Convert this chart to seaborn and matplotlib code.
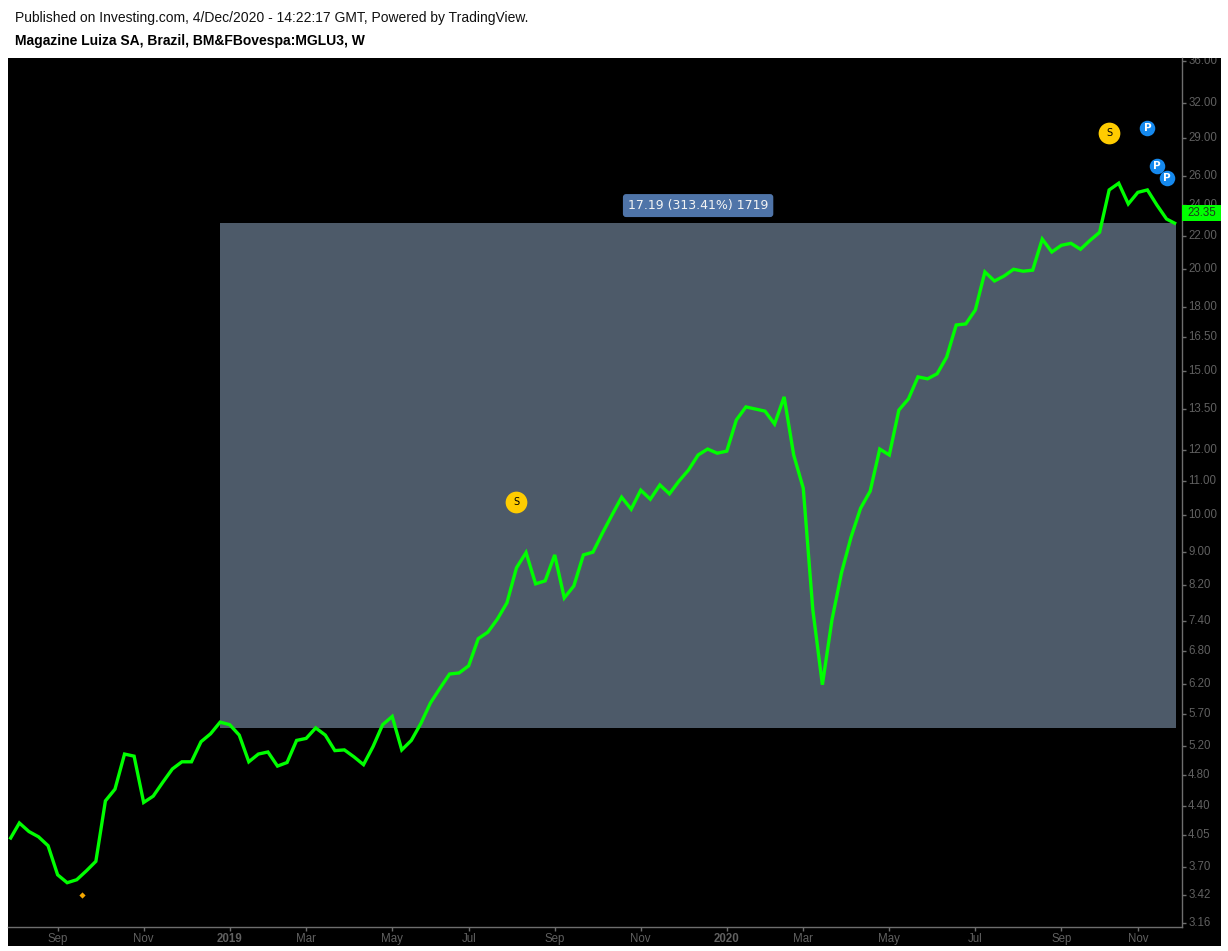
import pandas as pd
import matplotlib
matplotlib.use("Agg")
import matplotlib.pyplot as plt
import matplotlib.dates as mdates
from matplotlib.patches import Rectangle
from matplotlib.ticker import NullLocator
from matplotlib.transforms import Bbox
import seaborn as sns

# weekly closes
price = [
    4.00, 4.19, 4.09, 4.03, 3.93, 3.62, 3.54, 3.57, 3.66, 3.76,
    4.46, 4.61, 5.09, 5.06, 4.44, 4.52, 4.70, 4.88, 4.98, 4.98,
    5.27, 5.39, 5.57, 5.53, 5.37, 4.98, 5.09, 5.12, 4.92, 4.97,
    5.29, 5.32, 5.48, 5.37, 5.14, 5.15, 5.05, 4.94, 5.20, 5.53,
    5.66, 5.15, 5.29, 5.55, 5.88, 6.13, 6.38, 6.40, 6.53, 7.05,
    7.18, 7.45, 7.80, 8.61, 8.99, 8.23, 8.30, 8.93, 7.91, 8.18,
    8.93, 9.00, 9.50, 10.00, 10.51, 10.16, 10.72, 10.45, 10.88, 10.61,
    11.00, 11.35, 11.84, 12.04, 11.90, 11.97, 13.07, 13.56, 13.48, 13.40,
    12.92, 13.95, 11.84, 10.78, 7.65, 6.19, 7.43, 8.49, 9.39, 10.19,
    10.69, 12.04, 11.84, 13.44, 13.87, 14.76, 14.68, 14.89, 15.61, 17.09,
    17.14, 17.83, 19.85, 19.35, 19.62, 20.00, 19.89, 19.95, 21.78, 21.00,
    21.40, 21.52, 21.16, 21.70, 22.20, 25.02, 25.50, 24.05, 24.85, 25.02,
    23.97, 23.05, 22.73,
]
weeks = pd.date_range("2018-07-30", periods=len(price), freq="W-MON")

y_ticks = [36, 32, 29, 26, 24, 22, 20, 18, 16.5, 15, 13.5, 12, 11, 10, 9,
           8.2, 7.4, 6.8, 6.2, 5.7, 5.2, 4.8, 4.4, 4.05, 3.7, 3.42, 3.16]
x_tick_dates = ["2018-09-03", "2018-11-05", "2019-01-07", "2019-03-04", "2019-05-06",
                "2019-07-01", "2019-09-02", "2019-11-04", "2020-01-06", "2020-03-02",
                "2020-05-04", "2020-07-06", "2020-09-07", "2020-11-02"]
x_tick_labels = ["Sep", "Nov", "2019", "Mar", "May", "Jul", "Sep", "Nov",
                 "2020", "Mar", "May", "Jul", "Sep", "Nov"]

# price range measure tool
range_start, range_end = "2018-12-31", "2020-11-30"
range_low, range_high = 5.48, 22.79
range_label = "17.19 (313.41%) 1719"
range_label_date, range_label_y = "2019-12-16", 23.94

s_dates = ["2019-08-05", "2020-10-12"]
s_values = [10.37, 29.4]
p_dates = ["2020-11-09", "2020-11-16", "2020-11-23"]
p_values = [29.8, 26.77, 25.87]
split_date, split_value = "2018-09-21", 3.42

last_price = "23.35"

W, H = 1228, 951
GREY = "#606060"
AXIS = "#6e6e6e"

sns.set_style("white")
plt.rcParams["font.family"] = ["Liberation Sans", "DejaVu Sans"]

fig = plt.figure(figsize=(W / 100, H / 100), dpi=100, facecolor="white")


def px_box(x0, y0, x1, y1):
    return [x0 / W, 1 - y1 / H, (x1 - x0) / W, (y1 - y0) / H]


# black panel behind the chart and the axis strips
l, b, w, h = px_box(8, 58, 1221, 946)
fig.add_artist(Rectangle((l, b), w, h, transform=fig.transFigure, fc="black", ec="none", zorder=-1))

ax = fig.add_axes(px_box(8, 58, 1182, 927), facecolor="black")
ax.patch.set_visible(False)

ax.fill_between(pd.to_datetime([range_start, range_end]), range_low, range_high,
                color="#4d5a69", lw=0, zorder=1)
sns.lineplot(x=weeks, y=price, ax=ax, color="#00ff00", linewidth=2.4, estimator=None,
             zorder=3, solid_joinstyle="miter", solid_capstyle="butt")

ax.set_yscale("log")
ax.set_ylim(3.124, 36.31)
ax.set_xlim(pd.Timestamp("2018-07-28 16:00"), pd.Timestamp("2020-12-04 08:00"))
ax.set_xlabel("")
ax.set_ylabel("")

ax.yaxis.tick_right()
ax.set_yticks(y_ticks, [f"{t:.2f}" for t in y_ticks])
ax.yaxis.set_minor_locator(NullLocator())
ax.set_xticks(mdates.date2num(pd.to_datetime(x_tick_dates)), x_tick_labels)
ax.tick_params(axis="both", length=3, width=1, color=AXIS, labelcolor=GREY, labelsize=8.3, pad=2)
ax.tick_params(axis="x", pad=1.5, bottom=True)
ax.tick_params(axis="y", right=True, pad=1.5)

for sp in ["top", "left"]:
    ax.spines[sp].set_visible(False)
for sp in ["right", "bottom"]:
    ax.spines[sp].set_visible(True)
    ax.spines[sp].set_color(AXIS)
    ax.spines[sp].set_linewidth(1)

for lab in ax.get_xticklabels():
    if lab.get_text() in ("2019", "2020"):
        lab.set_fontweight("bold")

# labels at both ends get cut by the panel edges
clip = Bbox([[1182, H - 927], [1221, H - 58]])
for lab in ax.get_yticklabels():
    lab.set_verticalalignment("center")
    lab.set_clip_box(clip)
    lab.set_clip_on(True)

# measure label
ax.text(pd.Timestamp(range_label_date), range_label_y, range_label, ha="center", va="center",
        color="#f4f4f4", fontsize=9.0, family="DejaVu Sans", fontweight="medium", zorder=6,
        bbox=dict(boxstyle="round,pad=0.4,rounding_size=0.25", fc="#4f74a8", ec="none"))

# events
ax.scatter(pd.to_datetime(s_dates), s_values, s=245, color="#ffcc00", linewidths=0, zorder=5)
for d, v in zip(s_dates, s_values):
    ax.text(pd.Timestamp(d), v, "S", ha="center", va="center", fontsize=7, color="black",
            family="DejaVu Sans", zorder=6)
ax.scatter(pd.to_datetime(p_dates), p_values, s=125, color="#1589ee", linewidths=0, zorder=5)
for d, v in zip(p_dates, p_values):
    ax.text(pd.Timestamp(d), v, "P", ha="center", va="center", fontsize=7.5, color="white",
            fontweight="bold", family="DejaVu Sans", zorder=6)
ax.scatter([pd.Timestamp(split_date)], [split_value], s=10, marker="D", color="#f5a800",
           linewidths=0, zorder=5)

# last price tag on the scale
l, b, w, h = px_box(1182, 205, 1221, 221)
fig.add_artist(Rectangle((l, b), w, h, transform=fig.transFigure, fc="#00ff00", ec="none", zorder=2))
fig.text(1201.5 / W, 1 - 213.5 / H, last_price, ha="center", va="center", fontsize=8.3,
         color="#1c3a1c", zorder=3)

fig.text(15 / W, 1 - 18 / H, "Published on Investing.com, 4/Dec/2020 - 14:22:17 GMT, Powered by TradingView.",
         ha="left", va="center", fontsize=10, color="#111111")
fig.text(15 / W, 1 - 41 / H, "Magazine Luiza SA, Brazil, BM&FBovespa:MGLU3, W",
         ha="left", va="center", fontsize=10, color="black", fontweight="bold")

fig.savefig("out.png", dpi=100, facecolor="white")
